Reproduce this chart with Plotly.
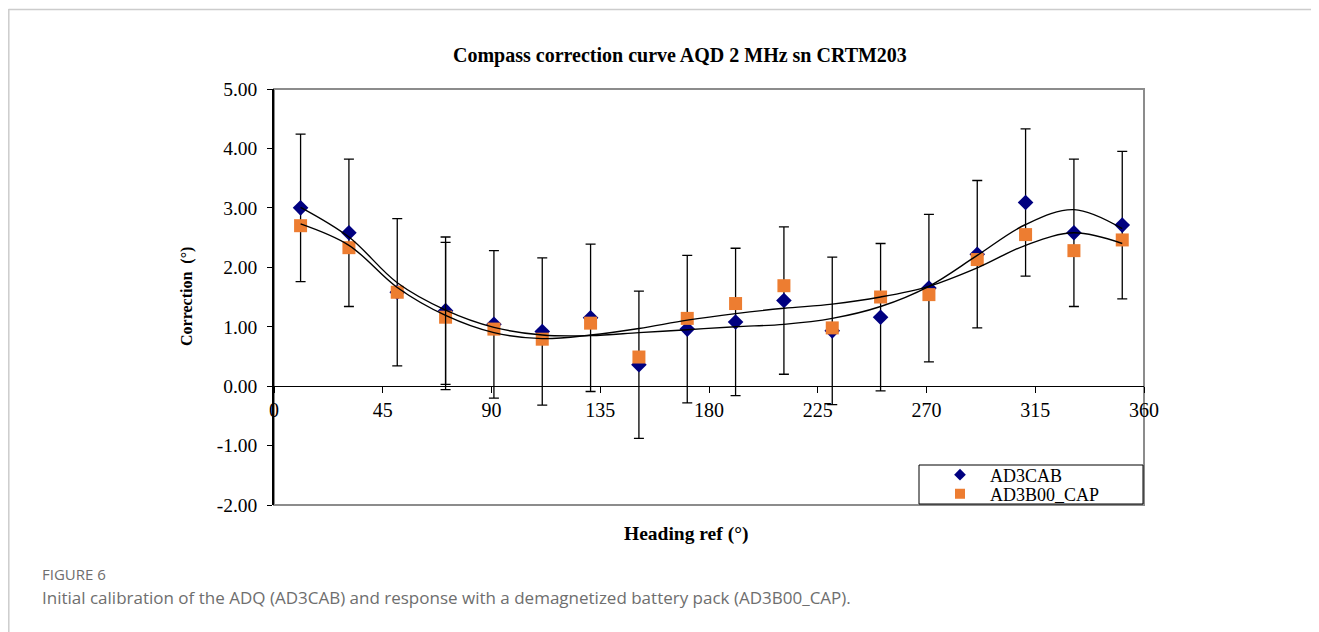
import plotly.graph_objects as go

# ---------------- data ----------------
heading = [11, 31, 51, 71, 91, 111, 131, 151, 171, 191, 211, 231, 251, 271, 291, 311, 331, 351]
ad3cab = [3.00, 2.58, 1.58, 1.27, 1.04, 0.92, 1.15, 0.36, 0.96, 1.08, 1.44, 0.93, 1.16, 1.65, 2.22, 3.09, 2.58, 2.71]
ad3b00_cap = [2.70, 2.33, 1.58, 1.16, 0.96, 0.79, 1.06, 0.49, 1.14, 1.39, 1.69, 0.98, 1.50, 1.54, 2.13, 2.55, 2.28, 2.46]
ad3cab_err = [1.24] * len(heading)

# extra error bar on the second series (visible at 71 deg)
extra_err_x = [71]
extra_err_y = [1.18]
extra_err = [1.24]

# trend lines
trend_x = heading
trend_ad3cab = [3.01, 2.51, 1.74, 1.28, 0.99, 0.86, 0.85, 0.90, 0.95, 1.00, 1.04, 1.14, 1.34, 1.68, 2.20, 2.72, 2.97, 2.65]
trend_ad3b00 = [2.73, 2.37, 1.66, 1.19, 0.90, 0.80, 0.86, 0.97, 1.11, 1.22, 1.31, 1.38, 1.50, 1.68, 1.99, 2.37, 2.58, 2.40]

x_ticks = [0, 45, 90, 135, 180, 225, 270, 315, 360]
y_ticks = [-2, -1, 0, 1, 2, 3, 4, 5]
y_tick_labels = [("%.2f" % v) for v in y_ticks]
y_range = [-2, 5]

# ---------------- layout helpers ----------------
OFF = 8                      # default page body margin
W, H = 1319 - OFF, 632 - OFF
L_REF, R_REF, T_REF, B_REF = 274, 1144, 89, 505   # plot area in page pixels


def px_x(px):
    return (px - L_REF) / (R_REF - L_REF)


def px_y(py):
    return (B_REF - py) / (B_REF - T_REF)


SERIF = "Liberation Serif, Times New Roman, serif"
NAVY = "#000080"
ORANGE = "#ED7D31"

fig = go.Figure()

fig.add_trace(go.Scatter(
    x=heading, y=ad3cab, mode="markers", name="AD3CAB", showlegend=False,
    marker=dict(symbol="diamond", size=12, color=NAVY),
    error_y=dict(type="data", array=ad3cab_err, visible=True, color="black",
                 thickness=1.3, width=5),
))
fig.add_trace(go.Scatter(
    x=heading, y=ad3b00_cap, mode="markers", name="AD3B00_CAP", showlegend=False,
    marker=dict(symbol="square", size=13, color=ORANGE),
))
fig.add_trace(go.Scatter(
    x=extra_err_x, y=extra_err_y, mode="markers", showlegend=False,
    marker=dict(size=1, opacity=0),
    error_y=dict(type="data", array=extra_err, visible=True, color="black",
                 thickness=1.3, width=5),
    hoverinfo="skip",
))
fig.add_trace(go.Scatter(
    x=trend_x, y=trend_ad3cab, mode="lines", showlegend=False,
    line=dict(color="black", width=1.4, shape="spline", smoothing=1.0),
    hoverinfo="skip",
))
fig.add_trace(go.Scatter(
    x=trend_x, y=trend_ad3b00, mode="lines", showlegend=False,
    line=dict(color="black", width=1.4, shape="spline", smoothing=1.0),
    hoverinfo="skip",
))
# legend entries (smaller symbols as in the reference legend)
fig.add_trace(go.Scatter(
    x=[None], y=[None], mode="markers", name="AD3CAB", legend="legend",
    marker=dict(symbol="diamond", size=9, color=NAVY),
))
fig.add_trace(go.Scatter(
    x=[None], y=[None], mode="markers", name="AD3B00_CAP", legend="legend2",
    marker=dict(symbol="square", size=10, color=ORANGE),
))

zero_pos = (0 - y_range[0]) / (y_range[1] - y_range[0])

legend_common = dict(xanchor="left", yanchor="middle", bgcolor="rgba(0,0,0,0)",
                     borderwidth=0, font=dict(family=SERIF, size=18, color="black"),
                     itemwidth=50)

fig.update_layout(
    width=W, height=H,
    margin=dict(l=L_REF - OFF, r=(1319 - R_REF), t=T_REF - OFF, b=(632 - B_REF), pad=0),
    paper_bgcolor="white", plot_bgcolor="white",
    font=dict(family=SERIF, size=17, color="black"),
    xaxis=dict(range=[0, 360], tickvals=x_ticks, ticks="outside", ticklen=6,
               tickcolor="black", showline=True, linecolor="black", linewidth=1.3,
               showgrid=False, zeroline=False, anchor="free", position=zero_pos,
               tickfont=dict(family=SERIF, size=20, color="black")),
    yaxis=dict(range=y_range, tickvals=y_ticks, ticktext=y_tick_labels,
               ticks="outside", ticklen=5, ticklabelstandoff=6,
               tickcolor="black", showline=True, linecolor="black", linewidth=1.5,
               showgrid=False, zeroline=False,
               tickfont=dict(family=SERIF, size=19.5, color="black")),
    legend=dict(x=px_x(930), y=px_y(475), **legend_common),
    legend2=dict(x=px_x(930), y=px_y(494), **legend_common),
    showlegend=True,
)

shapes = [
    # plot frame (grey)
    dict(type="rect", xref="paper", yref="paper", x0=0, x1=1, y0=0, y1=1,
         line=dict(color="#8c8c8c", width=2), layer="below"),
    # legend box
    dict(type="rect", xref="paper", yref="paper", x0=px_x(919), x1=px_x(1143),
         y0=px_y(504), y1=px_y(465), line=dict(color="black", width=1),
         fillcolor="white", layer="above"),
    # outer figure frame
    dict(type="line", xref="paper", yref="paper", x0=px_x(8.5), x1=px_x(1319),
         y0=px_y(9.5), y1=px_y(9.5), line=dict(color="#cccccc", width=1.5)),
    dict(type="line", xref="paper", yref="paper", x0=px_x(8.8), x1=px_x(8.8),
         y0=px_y(9), y1=px_y(632), line=dict(color="#cccccc", width=1.5)),
]
fig.update_layout(shapes=shapes)

annotations = [
    dict(text="<b>Compass correction curve AQD 2 MHz sn CRTM203</b>", x=px_x(680), y=px_y(55),
         xref="paper", yref="paper", showarrow=False, xanchor="center", yanchor="middle",
         font=dict(family=SERIF, size=20, color="black")),
    dict(text="<b>Correction  (°)</b>", x=px_x(187), y=px_y(297), textangle=-90,
         xref="paper", yref="paper", showarrow=False, xanchor="center", yanchor="middle",
         font=dict(family=SERIF, size=16, color="black")),
    dict(text="<b>Heading ref (°)</b>", x=px_x(686), y=px_y(534),
         xref="paper", yref="paper", showarrow=False, xanchor="center", yanchor="middle",
         font=dict(family=SERIF, size=19.5, color="black")),
    dict(text="FIGURE 6", x=px_x(40), y=px_y(574),
         xref="paper", yref="paper", showarrow=False, xanchor="left", yanchor="middle",
         font=dict(family="Open Sans", size=15, color="#6e6e6e")),
    dict(text="Initial calibration of the ADQ (AD3CAB) and response with a demagnetized battery pack (AD3B00_CAP).",
         x=px_x(40), y=px_y(597),
         xref="paper", yref="paper", showarrow=False, xanchor="left", yanchor="middle",
         font=dict(family="Open Sans", size=17, color="#6e6e6e")),
]
fig.update_layout(annotations=annotations)

fig.write_html("out.html")
